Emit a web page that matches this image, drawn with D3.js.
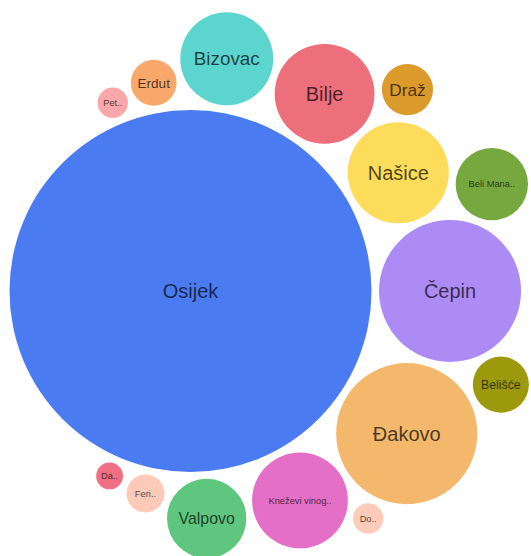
<!DOCTYPE html>
<html>
<head>
<meta charset="utf-8">
<script src="https://cdn.jsdelivr.net/npm/d3@7"></script>
<style>
    body { margin: 0; background: #fff; overflow: hidden; }
    svg { display: block; }
    .bubble-label { font-family: "Liberation Sans", Arial, Helvetica, sans-serif; pointer-events: none; }
</style>
</head>
<body>
<svg id="chart"></svg>
<script>
const width = 531;
const height = 556;

// municipalities of Osijek-Baranja county, relative values
const municipalities = ["Osijek", "Čepin", "Đakovo", "Našice", "Bilje", "Kneževi vinogradi", "Bizovac", "Valpovo",
    "Beli Manastir", "Belišće", "Draž", "Erdut", "Feričanci", "Donji Miholjac", "Petrijevci", "Darda"];
const values = [1000, 154, 152, 78, 76, 70, 66, 48, 40, 24, 20, 16, 11, 7, 7, 5.5];
const palette = ["#4a7bf0", "#ad8bf5", "#f3b86b", "#fddc5c", "#ee6f7c", "#e46fc6", "#5dd5cf", "#5fc67f",
    "#76a83f", "#9c9a0c", "#dc9a2b", "#f8a86b", "#fdcab9", "#fdcbb9", "#f8a7aa", "#ef7085"];

const maxRadius = 181;
const padding = 7.5;
const maxFont = 20;
const minFont = 9.3;
const centerX = width / 2 + 6;
const centerY = height / 2 + 9.5;

const svg = d3.select("#chart").attr("width", width).attr("height", height);

const radius = d3.scaleSqrt()
    .domain([0, d3.max(values)])
    .range([0, maxRadius]);

const color = d3.scaleOrdinal()
    .domain(municipalities)
    .range(palette);

let nodes = municipalities.map((name, i) => ({ name: name, value: values[i], r: radius(values[i]) }));
nodes.sort((a, b) => b.value - a.value);

// pack with padding, then strip it back off
const packed = nodes.map(d => ({ r: d.r + padding / 2, node: d }));
d3.packSiblings(packed);
const enclose = d3.packEnclose(packed);
packed.forEach(p => {
    p.node.x = p.x - enclose.x + centerX;
    p.node.y = p.y - enclose.y + centerY;
});

const bubble = svg.append("g")
    .attr("class", "bubbles")
    .selectAll("g")
    .data(nodes)
    .enter().append("g")
    .attr("transform", d => `translate(${d.x},${d.y})`);

bubble.append("circle")
    .attr("r", d => d.r)
    .attr("fill", d => color(d.name));

bubble.append("text")
    .attr("class", "bubble-label")
    .attr("text-anchor", "middle")
    .attr("dy", "0.35em")
    .attr("fill", "#000")
    .attr("fill-opacity", 0.7)
    .each(function(d) {
        const t = d3.select(this);
        const room = d.r * 2 * 0.71;
        t.style("font-size", maxFont + "px").text(d.name);
        let len = this.getComputedTextLength();
        let size = Math.min(maxFont, maxFont * room / len);
        if (size >= minFont) {
            t.style("font-size", size + "px");
            return;
        }
        // too long even at the smallest size: cut it down
        const cut = d.r * 2 * 0.665;
        t.style("font-size", minFont + "px");
        let label = d.name;
        while (label.length > 1) {
            label = label.slice(0, -1);
            t.text(label.trim() + "..");
            if (this.getComputedTextLength() <= cut) break;
        }
    });
</script>
</body>
</html>
